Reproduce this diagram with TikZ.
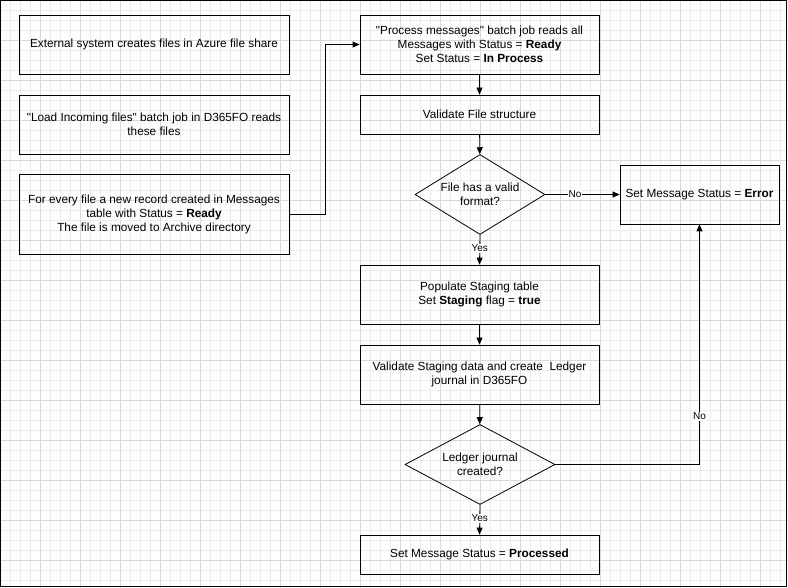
\documentclass[tikz,border=0pt]{standalone}
\usepackage{fontspec}
\setmainfont{Liberation Sans}[Ligatures=TeXOff]
\usetikzlibrary{shapes.geometric,arrows.meta}
\begin{document}
\begin{tikzpicture}[x=1pt,y=-1pt,
  box/.style={draw,thick,minimum width=239pt,align=center,font=\fontsize{11.8}{14}\selectfont,inner sep=2pt},
  dia/.style={draw,thick,diamond,aspect=1.6,align=center,font=\fontsize{11.8}{14}\selectfont,inner sep=0pt},
  arr/.style={-{Triangle[length=7pt,width=6pt]},thick},
  lab/.style={fill=white,font=\fontsize{10}{12}\selectfont,inner sep=1pt}]
\useasboundingbox (0,0) rectangle (788,588);
\draw[gray!15,step=10pt] (0,0) grid (788,588);
\draw[gray!30,step=40pt] (0,0) grid (788,588);
\draw[black] (0.5,0.5) rectangle (786.5,586.5);
\node[box,minimum width=270pt,minimum height=59pt] (a) at (154,44.5) {External system creates files in Azure file share};
\node[box,minimum width=270pt,minimum height=59pt] (b) at (154,124.5) {"Load Incoming files" batch job in D365FO reads\\these files};
\node[box,minimum width=270pt,minimum height=80pt] (c) at (154,214) {For every file a new record created in Messages\\table with Status = \textbf{Ready}\\The file is moved to Archive directory};
\node[box,minimum height=59pt] (p1) at (479.5,44.5) {"Process messages" batch job reads all\\Messages with Status = \textbf{Ready}\\Set Status = \textbf{In Process}};
\node[box,minimum height=39pt] (p2) at (479.5,114.5) {Validate File structure};
\node[dia,minimum width=130pt,minimum height=80pt] (d1) at (480,194.5) {File has a valid\\format?};
\node[box,minimum width=159pt,minimum height=59pt] (err) at (699.5,194.5) {Set Message Status = \textbf{Error}};
\node[box,minimum height=59pt] (p3) at (479.5,294.5) {Populate Staging table\\Set \textbf{Staging} flag = \textbf{true}};
\node[box,minimum height=59pt] (p4) at (479.5,374.5) {Validate Staging data and create \ Ledger\\journal in D365FO};
\node[dia,minimum width=150pt,minimum height=80pt] (d2) at (480,464.5) {Ledger journal\\created?};
\node[box,minimum height=39pt] (p5) at (479.5,554.5) {Set Message Status = \textbf{Processed}};
\coordinate (k1) at (325,214);
\coordinate (k2) at (325,44.5);
\draw[arr] (c.east|-k1) -- (k1) -- (k2) -- (p1.west|-k2);
\draw[arr] (p1) -- (p2);
\draw[arr] (p2) -- (d1);
\draw[arr] (d1.east) -- node[lab,pos=0.4]{No} (err.west);
\draw[arr] (d1.south) -- node[lab,pos=0.45]{Yes} (p3.north);
\draw[arr] (p3) -- (p4);
\draw[arr] (p4) -- (d2);
\coordinate (k3) at (699.5,464.5);
\draw[arr] (d2.east) -- (k3) -- node[lab,pos=0.2]{No} (err.south);
\draw[arr] (d2.south) -- node[lab,pos=0.45]{Yes} (p5.north);
\end{tikzpicture}
\end{document}
